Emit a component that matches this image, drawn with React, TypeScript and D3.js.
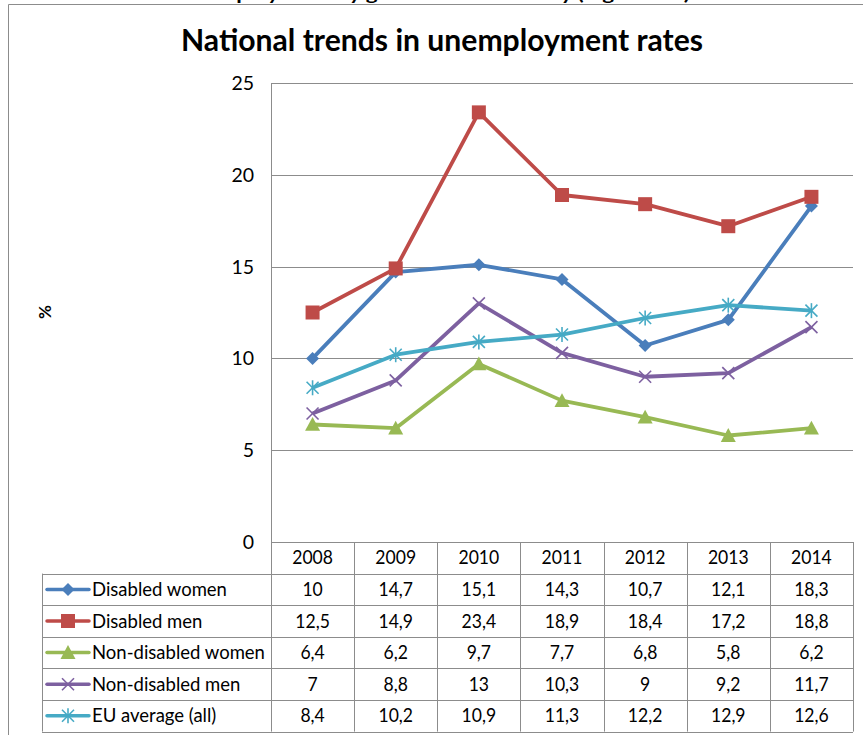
import React from "react";
import * as d3 from "d3";

const years = ["2008", "2009", "2010", "2011", "2012", "2013", "2014"];
const seriesNames = ["Disabled women", "Disabled men", "Non-disabled women", "Non-disabled men", "EU average (all)"];
const disabledWomen = [10, 14.7, 15.1, 14.3, 10.7, 12.1, 18.3];
const disabledMen = [12.5, 14.9, 23.4, 18.9, 18.4, 17.2, 18.8];
const nonDisabledWomen = [6.4, 6.2, 9.7, 7.7, 6.8, 5.8, 6.2];
const nonDisabledMen = [7, 8.8, 13, 10.3, 9, 9.2, 11.7];
const euAverage = [8.4, 10.2, 10.9, 11.3, 12.2, 12.9, 12.6];
const yTicks = [0, 5, 10, 15, 20, 25];
const colors = ["#4A7EBB", "#BE4B48", "#98B954", "#7D60A0", "#46AAC5"];
const markers = ["diamond", "square", "triangle", "x", "asterisk"];

const W = 863, H = 735;
const plotL = 271, plotR = 853, plotT = 83, plotB = 542;
const rowH = 31.6;
const legendL = 42;
const FONT = "Lato, 'Open Sans', 'Liberation Sans', sans-serif";
const FS = 18.5;

function Marker({ type, x, y, color }: { type: string; x: number; y: number; color: string }) {
  if (type === "diamond") {
    const s = 6.5;
    return <path d={`M${x},${y - s}L${x + s},${y}L${x},${y + s}L${x - s},${y}Z`} fill={color} />;
  }
  if (type === "square") {
    const s = 7;
    return <rect x={x - s} y={y - s} width={2 * s} height={2 * s} fill={color} />;
  }
  if (type === "triangle") {
    const s = 7.5;
    return <path d={`M${x},${y - s}L${x + s},${y + s * 0.85}L${x - s},${y + s * 0.85}Z`} fill={color} />;
  }
  if (type === "x") {
    const s = 6;
    return (
      <g stroke={color} strokeWidth={1.6}>
        <line x1={x - s} y1={y - s} x2={x + s} y2={y + s} />
        <line x1={x - s} y1={y + s} x2={x + s} y2={y - s} />
      </g>
    );
  }
  const s = 6;
  return (
    <g stroke={color} strokeWidth={1.6}>
      <line x1={x - s} y1={y - s} x2={x + s} y2={y + s} />
      <line x1={x - s} y1={y + s} x2={x + s} y2={y - s} />
      <line x1={x} y1={y - s - 1.5} x2={x} y2={y + s + 1.5} />
    </g>
  );
}

function CellText({ x, y, children }: { x: number; y: number; children: React.ReactNode }) {
  return (
    <text transform={`translate(${x},${y}) scale(0.95,1)`} textAnchor="middle" fontSize={FS} fill="#000">
      {children}
    </text>
  );
}

export default function App() {
  const data = [disabledWomen, disabledMen, nonDisabledWomen, nonDisabledMen, euAverage];
  const x = d3.scaleBand<string>().domain(years).range([plotL, plotR]);
  const y = d3.scaleLinear().domain([0, 25]).range([plotB, plotT]);
  const line = d3
    .line<number>()
    .x((_, i) => (x(years[i]) as number) + x.bandwidth() / 2)
    .y((d) => y(d));
  const gridColor = "#8C8C8C";
  const tableTop = plotB;
  const rowsTop = tableTop + rowH;
  const tableBottom = rowsTop + rowH * seriesNames.length;

  return (
    <div style={{ position: "absolute", left: 0, top: 0 }}>
      <svg width={W} height={H} style={{ display: "block", fontFamily: FONT }}>
        <rect x={0} y={0} width={W} height={H} fill="#fff" />
        <text x={2} y={-0.5} fontSize={17} fontWeight="bold" fill="#000" textLength={688} lengthAdjust="spacingAndGlyphs">
          Table 3: Trends in unemployment by gender and disability (Figure 3.1)
        </text>
        {/* outer frame */}
        <line x1={8.5} y1={4.5} x2={W} y2={4.5} stroke="#8C8C8C" />
        <line x1={8.5} y1={4.5} x2={8.5} y2={H} stroke="#8C8C8C" />
        {/* title */}
        <text x={442} y={51} textAnchor="middle" fontSize={31} fontWeight="bold" fill="#000" textLength={522} lengthAdjust="spacingAndGlyphs">
          National trends in unemployment rates
        </text>
        {/* y axis label */}
        <text transform="translate(51,312) rotate(-90)" textAnchor="middle" fontSize={17} fontWeight="bold" fill="#000">
          %
        </text>
        {/* gridlines */}
        {yTicks.map((t) => (
          <g key={t}>
            {t > 0 && <line x1={plotL} x2={plotR} y1={Math.round(y(t)) + 0.5} y2={Math.round(y(t)) + 0.5} stroke={gridColor} />}
            <text x={254} y={y(t) + 7} textAnchor="end" fontSize={19.5} fill="#000">
              {t}
            </text>
          </g>
        ))}
        {/* axis line */}
        <line x1={plotL + 0.5} x2={plotL + 0.5} y1={plotT} y2={tableBottom} stroke={gridColor} />
        {/* table */}
        <line x1={plotL} x2={plotR} y1={tableTop + 0.5} y2={tableTop + 0.5} stroke={gridColor} />
        {d3.range(seriesNames.length + 1).map((r) => (
          <line key={"h" + r} x1={legendL} x2={plotR} y1={Math.round(rowsTop + r * rowH) + 0.5} y2={Math.round(rowsTop + r * rowH) + 0.5} stroke={gridColor} />
        ))}
        <line x1={legendL + 0.5} x2={legendL + 0.5} y1={rowsTop} y2={tableBottom} stroke={gridColor} />
        {years.map((yr, i) => {
          const x0 = x(yr) as number;
          const cx = x0 + x.bandwidth() / 2;
          return (
            <g key={yr}>
              <line x1={Math.round(x0 + x.bandwidth()) + 0.5} x2={Math.round(x0 + x.bandwidth()) + 0.5} y1={tableTop} y2={tableBottom} stroke={gridColor} />
              <CellText x={cx} y={tableTop + rowH / 2 + 6.5}>{yr}</CellText>
              {data.map((s, k) => (
                <CellText key={k} x={cx} y={rowsTop + k * rowH + rowH / 2 + 6.5}>
                  {String(s[i]).replace(".", ",")}
                </CellText>
              ))}
            </g>
          );
        })}
        {/* legend keys */}
        {seriesNames.map((n, k) => {
          const cy = rowsTop + k * rowH + rowH / 2;
          return (
            <g key={n}>
              <line x1={47} x2={89} y1={cy} y2={cy} stroke={colors[k]} strokeWidth={3.5} strokeLinecap="round" />
              <Marker type={markers[k]} x={68} y={cy} color={colors[k]} />
              <text x={92} y={cy + 6.5} fontSize={FS} fill="#000">
                {n}
              </text>
            </g>
          );
        })}
        {/* series */}
        {data.map((s, k) => (
          <g key={k}>
            <path d={line(s) as string} fill="none" stroke={colors[k]} strokeWidth={3.8} strokeLinejoin="round" />
            {s.map((v, i) => (
              <Marker key={i} type={markers[k]} x={(x(years[i]) as number) + x.bandwidth() / 2} y={y(v)} color={colors[k]} />
            ))}
          </g>
        ))}
      </svg>
    </div>
  );
}
